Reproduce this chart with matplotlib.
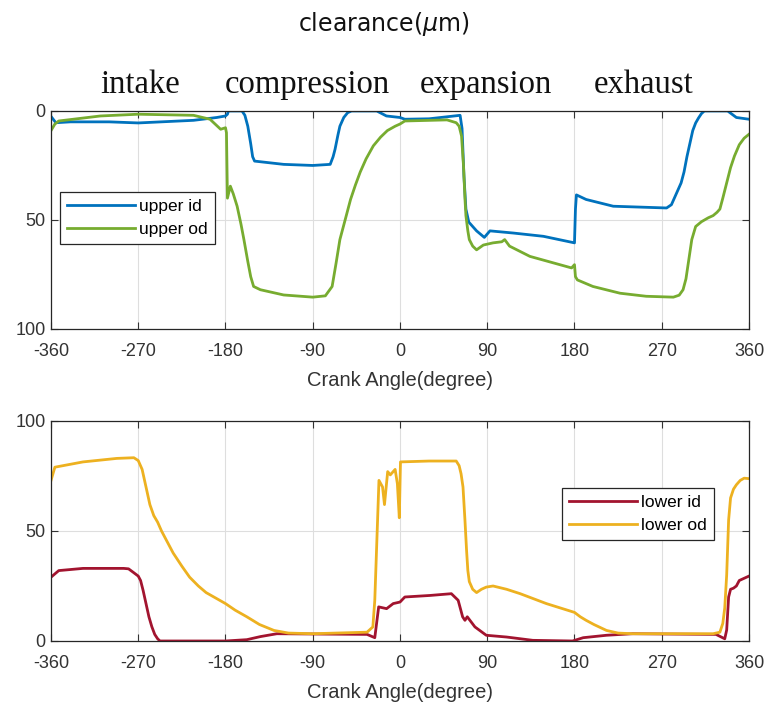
import matplotlib
matplotlib.use("Agg")
import matplotlib.pyplot as plt

plt.rcParams['font.family'] = ['Liberation Sans', 'DejaVu Sans']
plt.rcParams['axes.unicode_minus'] = False

# crank angle ticks
xticks = [-360, -270, -180, -90, 0, 90, 180, 270, 360]
phases = ["intake", "compression", "expansion", "exhaust"]
phase_x = [-268, -96, 89, 251]

# upper ring clearance (um)
upper_id_deg = [-360, -355, -340, -300, -270, -213, -189, -180, -178, -177, -163, -160, -157, -154,
                -152, -150, -120, -90, -72, -69, -67, -64, -62, -58, -54, -50, -24, -14, 0, 5, 30,
                62, 64, 66, 68, 71, 79, 87, 92.8, 117, 148, 180, 181, 182, 192, 220, 275, 280, 283,
                287, 290, 293, 296, 299, 302, 305, 308, 311, 314, 338, 347, 360]
upper_id_val = [2.5, 5.4, 5, 5, 5.5, 4.3, 3, 2.3, 1.5, 0, 0, 2, 7, 15,
                21, 23, 24.5, 25, 24.5, 21, 17.6, 11, 7, 3, 0.8, 0, 0, 2.3, 3, 3.8, 3.6,
                2, 8, 30, 45, 51, 55, 58, 55, 56, 57.5, 60.5, 45, 38.5, 40.6, 43.7, 44.5, 43, 40,
                36, 33, 28, 21, 15, 9, 5.5, 3.2, 1.2, 0, 0, 3, 3.8]

upper_od_deg = [-360, -356, -352, -309, -270, -213, -196, -185, -180, -179, -178, -175, -172, -168,
                -164, -161, -157, -154, -151, -144, -120, -90, -77, -70, -66, -62, -56, -51, -46,
                -41, -35, -27.5, -20, -13, -5, 0, 5, 48.5, 58, 61, 63.5, 65.5, 67, 68, 70, 71.5,
                75, 79, 86, 96, 105, 108, 113, 134, 177, 180, 181, 183, 199, 227, 254, 282, 288,
                292, 295, 298, 301, 305, 311, 318, 323, 327, 330, 333, 337, 341, 345, 350, 355, 360]
upper_od_val = [9, 6, 4.6, 2.3, 1.5, 2, 3.8, 8.4, 7.7, 10, 40, 34.5, 38, 43.7,
                52, 59, 69, 76, 80.5, 82, 84.4, 85.4, 84.8, 80.5, 70, 59, 49, 40.6, 34,
                28, 22, 16, 12, 9, 7, 6, 4.6, 4.1, 5.4, 7, 11.5, 25, 40, 48, 55, 59,
                62, 63.7, 61.5, 60.5, 60, 59, 62, 66.7, 72, 70.5, 76, 77.5, 80.5, 83.6, 85, 85.4, 84.5,
                82, 77, 68, 59, 53, 50.8, 49, 48, 46.5, 45, 40, 33, 26, 20.7, 15.5, 12.5, 10.7]

# lower ring clearance (um)
lower_id_deg = [-360, -352, -327, -285, -280, -274.5, -270, -267.6, -265, -262, -259, -256, -253,
                -250, -247.6, -180, -158, -144, -127, -34, -26, -22, -13.8, -7, 0, 5, 31, 53, 60,
                64.6, 67, 69.4, 77.3, 89, 110, 137, 178, 189, 213, 240, 326, 335, 337, 339, 341,
                344, 347, 350, 355, 360]
lower_id_val = [29, 32, 33, 33, 32.8, 31, 29.5, 27.5, 23, 17, 11, 6.5, 3,
                1, 0, 0, 0.6, 2, 3.3, 3, 1.5, 15.5, 14.7, 17, 17.7, 20, 20.7, 21.5, 18.5,
                11, 9.4, 11, 6.4, 2.6, 1.8, 0.3, 0, 1.5, 2.6, 3.3, 3, 1, 5, 20, 23.5,
                24, 25, 27.5, 28.5, 29.5]

lower_od_deg = [-360, -356, -327, -292, -274.5, -270, -266, -262, -258, -254, -250, -246, -240, -234,
                -225, -217, -208, -200, -190, -180, -170, -158, -145, -130, -115, -90, -34, -28, -26,
                -21.7, -18, -16, -12.7, -10, -5, -2.7, -0.7, 0.5, 30, 58, 61, 63, 65, 67, 68.7, 70,
                71.5, 75, 79, 84, 89, 96, 110, 124, 151, 180, 186, 192, 200, 213, 225, 240, 323,
                330, 333, 335, 337, 339, 341, 344, 347, 351, 355, 360]
lower_od_val = [73, 79, 81.4, 83, 83.3, 82, 78, 70, 62, 57, 54, 50, 45, 40,
                34, 29, 25, 22, 19.5, 17, 14, 11, 7.5, 4.8, 3.6, 3.3, 4, 6.4, 18.5,
                73, 70, 62, 77, 75.5, 78, 71.5, 56, 81.4, 81.8, 81.8, 79.7, 76, 70, 55, 41, 32,
                27, 23.5, 22, 23.5, 24.5, 25, 23.5, 21.5, 17, 13, 11, 9.4, 7.5, 4.8, 3.6, 3.3, 3.3,
                4, 8, 15, 30, 55, 65, 69, 71, 73, 74, 73.8]

BLUE, GREEN, RED, YELLOW = "#0072BD", "#77AC30", "#A2142F", "#EDB120"
TXT = "#333333"


def style_axes(ax):
    ax.set_xlim(-360, 360)
    ax.set_xticks(xticks)
    ax.set_yticks([0, 50, 100])
    ax.grid(True, color="#dedede", lw=0.8)
    ax.set_axisbelow(True)
    ax.tick_params(direction="in", top=True, right=True, labelsize=13, colors=TXT,
                   length=5, width=0.8)
    ax.tick_params(axis="x", pad=10)
    ax.tick_params(axis="y", pad=4)
    for s in ax.spines.values():
        s.set_color("#262626")
        s.set_linewidth(0.9)
    ax.set_xlabel("Crank Angle(degree)", fontsize=14.5, color=TXT, labelpad=8)


def add_legend(ax, anchor):
    leg = ax.legend(loc="upper left", bbox_to_anchor=anchor, fontsize=12.5,
                    handlelength=3.9, fancybox=False, edgecolor="#262626", framealpha=1,
                    borderpad=0.4, labelspacing=0.45, handletextpad=0.25, borderaxespad=0)
    leg.get_frame().set_linewidth(0.9)


fig = plt.figure(figsize=(7.67, 7.04), dpi=100)

ax1 = fig.add_axes([0.0665, 0.5327, 0.910, 0.3097])
ax1.plot(upper_id_deg, upper_id_val, color=BLUE, lw=2, label="upper id")
ax1.plot(upper_od_deg, upper_od_val, color=GREEN, lw=2, label="upper od")
ax1.set_ylim(100, 0)
style_axes(ax1)
add_legend(ax1, (0.013, 0.627))

ax2 = fig.add_axes([0.0665, 0.0895, 0.910, 0.3125])
ax2.plot(lower_id_deg, lower_id_val, color=RED, lw=2, label="lower id")
ax2.plot(lower_od_deg, lower_od_val, color=YELLOW, lw=2, label="lower od")
ax2.set_ylim(0, 100)
style_axes(ax2)
add_legend(ax2, (0.732, 0.694))

fig.text(0.5, 0.966, r"clearance($\mu$m)", ha="center", va="center", fontsize=17,
         family="DejaVu Sans", color="#111111")
for name, px in zip(phases, phase_x):
    ax1.text(px, 1.082, name, transform=ax1.get_xaxis_transform(), ha="center", va="baseline",
             fontsize=23.5, family="Liberation Serif", color="#111111")

fig.savefig("out.png", dpi=100)
